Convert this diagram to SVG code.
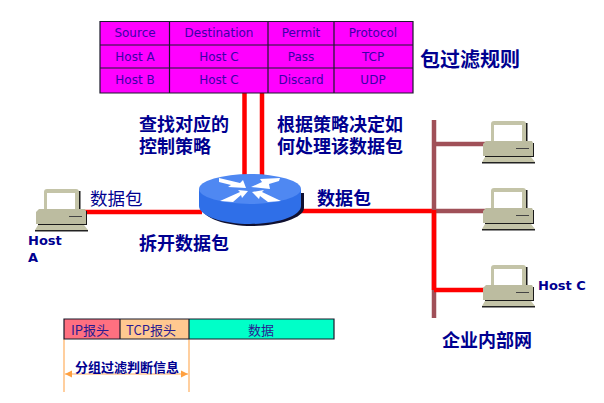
<svg xmlns="http://www.w3.org/2000/svg" width="604" height="403" viewBox="0 0 604 403">
<style>
text{font-family:"Liberation Sans","DejaVu Sans","Noto Sans CJK SC",sans-serif;fill:#000090}
.cn{font-family:"Noto Sans CJK SC",sans-serif;font-size:18px;font-weight:700}
.cnl{font-family:"Noto Sans CJK SC",sans-serif;font-size:17.5px}
.cell{font-family:"DejaVu Sans",sans-serif;font-size:12px;text-anchor:middle;fill:#3a00a8}
.grid{stroke:#1a1a2a;stroke-width:1.2;fill:none}
.host{font-family:"DejaVu Sans",sans-serif;font-size:13px;font-weight:700}
.red{stroke:#ff0000;stroke-width:4.500;fill:none}
.bus{stroke:#a05058;stroke-width:4.500;fill:none}
.ora{stroke:#ffb060;stroke-width:1.2;fill:none}
.pk{font-family:"Noto Sans CJK SC",sans-serif;font-size:13px;text-anchor:middle;fill:#2a1a90}
</style>
<defs>
<marker id="ah" viewBox="0 0 6 6" refX="6" refY="3" markerWidth="6" markerHeight="6" orient="auto-start-reverse"><path d="M0 0L6 3L0 6Z" fill="#ffa040"/></marker>
<g id="pc">
<path d="M10 1h33v21H10z" fill="#1a1a1a" transform="translate(1.5,1)"/>
<path d="M11 0h29q3 0 3 3v19H8V3q0-3 3-3z" fill="#c4c4a8"/>
<rect x="11" y="4" width="28" height="17" fill="#fff"/>
<rect x="2" y="22" width="49" height="14" fill="#1a1a1a"/>
<path d="M3 20h46l1 2v13H0V23z" fill="#bcbca0"/>
<rect x="33" y="27" width="13" height="1" fill="#444"/>
<path d="M2 36h46l4 5H-1z" fill="#c4c4a8"/>
<rect x="-1" y="41" width="53" height="1.5" fill="#222"/>
</g>
</defs>
<g id="connectors">
<path class="red" d="M244.500 93V178M262 93V178M82 212H202M298 211H434"/>
<path class="bus" d="M434 120V318M434 144H486M434 211H486"/>
<path class="red" d="M434 210V290M434 290H486"/>
<path class="ora" d="M64 339V392M189 339V392"/>
<path class="ora" d="M65 374H188" marker-start="url(#ah)" marker-end="url(#ah)"/>
</g>
<g id="rules">
<rect x="100" y="21" width="313" height="72" fill="#ff00ff"/>
<path class="grid" d="M100 21.500H413V93H100ZM100 45H413M100 68H413M169.500 21V93M268 21V93M334 21V93"/>
<text class="cell" x="135" y="37">Source</text><text class="cell" x="219" y="37">Destination</text><text class="cell" x="301" y="37">Permit</text><text class="cell" x="373" y="37">Protocol</text>
<text class="cell" x="135" y="61">Host A</text><text class="cell" x="219" y="61">Host C</text><text class="cell" x="301" y="61">Pass</text><text class="cell" x="373" y="61">TCP</text>
<text class="cell" x="135" y="84">Host B</text><text class="cell" x="219" y="84">Host C</text><text class="cell" x="301" y="84">Discard</text><text class="cell" x="373" y="84">UDP</text>
</g>
<g id="router">
<path d="M202 193V208C202 218 226 226 252 226S304 218 304 208V193Z" fill="#101030"/>
<path d="M199 189V206C199 216 223 224 250 224S301 216 301 206V189Z" fill="#2f6fe8"/>
<ellipse cx="250" cy="189" rx="51" ry="15" fill="#4f88f2"/>
<g fill="#fff"><path d="M219 178L240 183L243 180L246 188L228 187L231 185L219 182Z"/><path d="M280 178L260 179L262 182L251 187L270 189L269 184L279 181Z" /><path d="M220 201L240 192L238 190L248 191L242 198L241 195L233 202Z"/><path d="M281 201L262 192L264 190L252 192L259 199L260 196L268 202Z"/></g>
</g>
<g id="host-a"><use href="#pc" x="36" y="189"/><text class="host" x="28" y="245">Host<tspan x="28" y="262">A</tspan></text></g>
<g id="pc-1"><use href="#pc" x="483" y="121"/></g>
<g id="pc-2"><use href="#pc" x="483" y="188"/></g>
<g id="host-c"><use href="#pc" x="483" y="265"/><text class="host" x="538" y="290">Host C</text></g>
<g id="labels">
<text class="cn" x="420" y="67" style="font-size:20px">包过滤规则</text>
<text class="cn" x="139" y="131">查找对应的<tspan x="139" y="153">控制策略</tspan></text>
<text class="cn" x="277" y="131">根据策略决定如<tspan x="277" y="153">何处理该数据包</tspan></text>
<text class="cnl" x="90" y="205">数据包</text><text class="cn" x="317" y="205">数据包</text>
<text class="cn" x="139" y="250">拆开数据包</text><text class="cn" x="442" y="347">企业内部网</text>
</g>
<g id="packet">
<rect x="64" y="319" width="56" height="20" fill="#ff7080"/><rect x="120" y="319" width="69" height="20" fill="#ffc890"/><rect x="189" y="319" width="145" height="20" fill="#00ffc8"/>
<path class="grid" d="M64 319H334V339H64ZM120 319V339M189 319V339"/>
<text class="pk" x="90" y="335">IP报头</text><text class="pk" x="151" y="335">TCP报头</text><text class="pk" x="261" y="335">数据</text>
<text x="127" y="372" text-anchor="middle" style="font-family:'Noto Sans CJK SC',sans-serif;font-size:13px;font-weight:700">分组过滤判断信息</text>
</g>
</svg>
